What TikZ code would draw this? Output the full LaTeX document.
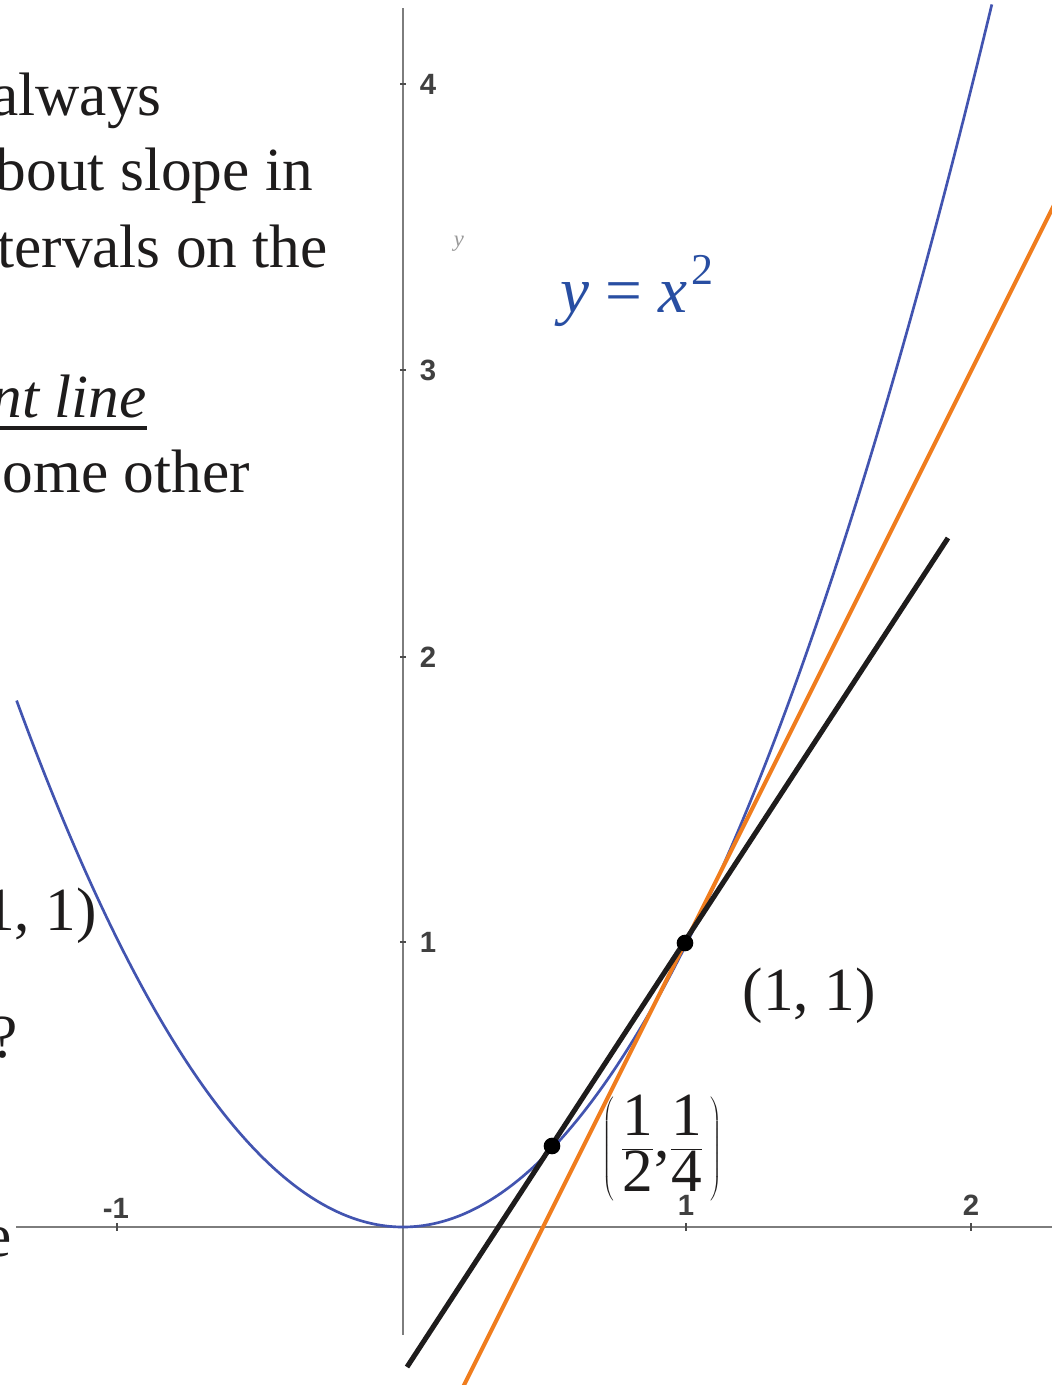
\documentclass[tikz,border=0pt]{standalone}
\usepackage{fontspec}
\setmainfont{Liberation Serif}
\newfontfamily\ticksf{Liberation Sans}
\usetikzlibrary{calc}
\definecolor{curveblue}{RGB}{66,84,176}
\definecolor{labelblue}{RGB}{40,78,162}
\definecolor{tanorange}{RGB}{240,125,30}
\definecolor{axisgray}{RGB}{125,125,125}
\definecolor{ink}{RGB}{30,28,28}
\begin{document}
\begin{tikzpicture}[x=0.75pt,y=-0.75pt,
  body/.style={font=\fontsize{46}{55}\selectfont, text=ink, inner sep=0pt, anchor=base east},
  ticklbl/.style={font=\ticksf\bfseries\fontsize{22}{24}\selectfont, text=black!75, inner sep=0pt},
  axisline/.style={draw=axisgray, line width=2.2pt},
  tickmark/.style={draw=black!70, line width=1.4pt},
  curve/.style={draw=curveblue, line width=2pt},
  secant/.style={draw=ink, line width=3.8pt},
  tangent/.style={draw=tanorange, line width=3pt},
  dot/.style={circle, fill=black, inner sep=0pt, minimum size=12.5pt}
]
\path[use as bounding box] (0,0) rectangle (1052,1385);
\clip (0,0) rectangle (1052,1385);
\fill[white] (0,0) rectangle (1052,1385);

% axes
\coordinate (xl) at (16,1227);
\coordinate (xr) at (1060,1227);
\coordinate (yt) at (403,8);
\coordinate (yb) at (403,1335);
\draw[axisline] (xl) -- (xr);
\draw[axisline] (yt) -- (yb);
\foreach \px in {117,686,971}{\draw[tickmark] (\px,1223) -- (\px,1231);}
\foreach \py in {84,370,657,942}{\draw[tickmark] (400,\py) -- (406,\py);}

% tick labels
\node[ticklbl] (l4) at (428,84) {4};
\node[ticklbl] (l3) at (428,370) {3};
\node[ticklbl] (l2) at (428,657) {2};
\node[ticklbl] (l1) at (428,942) {1};
\node[ticklbl] (lm1) at (116,1208) {-1};
\node[ticklbl] (lx1) at (686,1205) {1};
\node[ticklbl] (lx2) at (971,1205) {2};
\node[font=\fontsize{17}{18}\selectfont\itshape, text=black!40, inner sep=0pt] (ylab) at (459,244) {y};

% parabola
\begin{scope}[shift={(403,1227)}, x=213.4pt, y=214.1pt]
  \draw[curve] plot[domain=-1.358:2.07, samples=140, smooth] (\x,{\x*\x});
\end{scope}

% points
\coordinate (P) at (685,943);
\coordinate (Q) at (552,1146);

% tangent (orange)
\coordinate (o1) at (460,1393);
\coordinate (o2) at (1062,189);
\draw[tangent] (o1) -- (o2);

% secant (black)
\coordinate (s1) at (407,1367);
\coordinate (s2) at (948,538);
\draw[secant] (s1) -- (s2);

\node[dot] (Pdot) at (P) {};
\node[dot] (Qdot) at (Q) {};

% labels on graph
\node[font=\fontsize{49}{58}\selectfont, text=labelblue, inner sep=0pt, anchor=base west] (eq) at (560,312)
  {\textit{y} = \textit{x}\kern3pt\raisebox{0.42em}{\fontsize{33}{36}\selectfont 2}};
\node[body] (p11) at (876,1010) {(1, 1)};
\node[font=\fontsize{46}{54}\selectfont, text=ink, inner sep=0pt] (qlbl) at (662,1148)
  {$\displaystyle\left(\kern5pt\frac{\mbox{1}}{\mbox{2}}\mbox{,}\frac{\mbox{1}}{\mbox{4}}\kern5pt\right)$};

% cut-off slide text on the left
\node[body] (t1) at (162,115) {always};
\node[body] (t2) at (313,190) {bout slope in};
\node[body] (t3) at (328,267) {tervals on the};
\node[body, font=\fontsize{46}{55}\selectfont\itshape] (t4) at (147,417) {nt line};
\coordinate (u1) at (0,428);
\coordinate (u2) at (147,428);
\draw[ink, line width=3.3pt] (u1) -- (u2);
\node[body] (t5) at (250,492) {ome other};
\node[body] (t6) at (97,930) {1, 1)};
\node[body] (t7) at (18,1057) {?};
\node[body] (t8) at (12,1256) {e};
\end{tikzpicture}
\end{document}
